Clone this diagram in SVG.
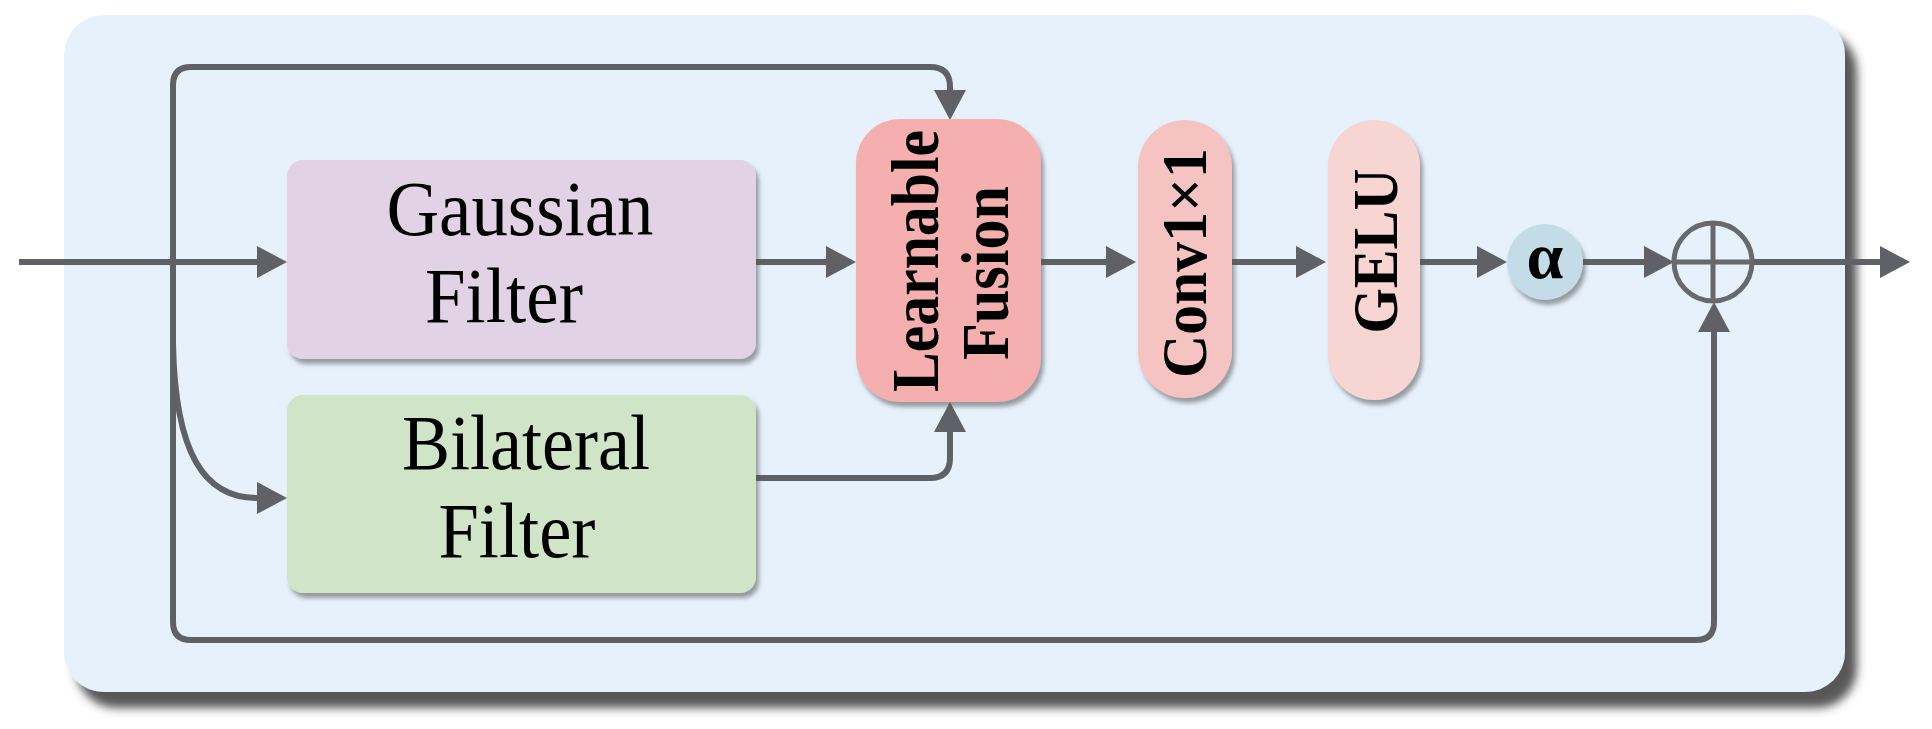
<svg xmlns="http://www.w3.org/2000/svg" width="1932" height="729" viewBox="0 0 1932 729">
<style>
.ln{fill:none;stroke:#5f6166;stroke-width:6;stroke-linecap:butt;stroke-linejoin:round}
.lbl{font-family:"Liberation Serif","Times New Roman",serif;font-size:78px;fill:#000;text-anchor:middle}
.vl{font-family:"Liberation Serif","Times New Roman",serif;font-weight:bold;fill:#000;text-anchor:middle}
</style>
<defs>
<marker id="ah" markerUnits="userSpaceOnUse" markerWidth="31" markerHeight="33" refX="0" refY="16" orient="auto">
<path d="M0,0 L30,16 L0,32 Z" fill="#5f6166"/>
</marker>
<filter id="ps" x="-5%" y="-5%" width="115%" height="120%">
<feDropShadow dx="12" dy="16" stdDeviation="5" flood-color="#3a3a3a" flood-opacity="0.85"/>
</filter>
<filter id="ns" x="-10%" y="-10%" width="130%" height="130%">
<feDropShadow dx="3" dy="5" stdDeviation="2" flood-color="#555" flood-opacity="0.55"/>
</filter>
</defs>
<rect id="panel" x="64" y="15" width="1781" height="677" rx="40" fill="#e6f1fc" filter="url(#ps)"/>
<g id="connectors">
<path class="ln" d="M19,262 H257" marker-end="url(#ah)"/>
<path class="ln" d="M756,262 H826" marker-end="url(#ah)"/>
<path class="ln" d="M1041,262 H1106" marker-end="url(#ah)"/>
<path class="ln" d="M1232,262 H1296" marker-end="url(#ah)"/>
<path class="ln" d="M1420,262 H1477" marker-end="url(#ah)"/>
<path class="ln" d="M1583,262 H1644" marker-end="url(#ah)"/>
<path class="ln" d="M1752,262 H1880" marker-end="url(#ah)"/>
<path class="ln" d="M173,300 V85 Q173,67 191,67 H930 Q950,67 950,87 V90" marker-end="url(#ah)"/>
<path class="ln" d="M173,280 V622 Q173,640 191,640 H1696 Q1714,640 1714,622 V332" marker-end="url(#ah)"/>
<path class="ln" d="M173,343 C175,455 205,498 257,498" marker-end="url(#ah)"/>
<path class="ln" d="M756,478 H930 Q950,478 950,458 V432" marker-end="url(#ah)"/>
</g>
<g id="gaussian">
<rect x="287" y="160" width="469" height="199" rx="16" fill="#e2d2e6" filter="url(#ns)"/>
<text class="lbl" x="520" y="235" textLength="267" lengthAdjust="spacingAndGlyphs">Gaussian</text>
<text class="lbl" x="504" y="322" textLength="158" lengthAdjust="spacingAndGlyphs">Filter</text>
</g>
<g id="bilateral">
<rect x="287" y="395" width="469" height="198" rx="16" fill="#d0e4c8" filter="url(#ns)"/>
<text class="lbl" x="526" y="469" textLength="248" lengthAdjust="spacingAndGlyphs">Bilateral</text>
<text class="lbl" x="517" y="557" textLength="157" lengthAdjust="spacingAndGlyphs">Filter</text>
</g>
<g id="fusion">
<rect x="856" y="119" width="185" height="283" rx="44" fill="#f4afae" filter="url(#ns)"/>
<text class="vl" font-size="68" textLength="262" lengthAdjust="spacingAndGlyphs" transform="translate(938,261) rotate(-90)">Learnable</text>
<text class="vl" font-size="68" textLength="174" lengthAdjust="spacingAndGlyphs" transform="translate(1008,273) rotate(-90)">Fusion</text>
</g>
<g id="conv">
<rect x="1138" y="120" width="94" height="278" rx="47" fill="#f5c4c2" filter="url(#ns)"/>
<text class="vl" font-size="63" textLength="230" lengthAdjust="spacingAndGlyphs" transform="translate(1206,263) rotate(-90)">Conv1×1</text>
</g>
<g id="gelu">
<rect x="1328" y="120" width="92" height="280" rx="46" fill="#f7d5d3" filter="url(#ns)"/>
<text class="vl" font-size="63" textLength="165" lengthAdjust="spacingAndGlyphs" transform="translate(1397,251) rotate(-90)">GELU</text>
</g>
<g id="alpha">
<circle cx="1545" cy="262" r="38" fill="#c4dce7" filter="url(#ns)"/>
<text class="vl" font-size="66" x="1545" y="278">α</text>
</g>
<g id="sum">
<circle cx="1713" cy="262" r="39" fill="none" stroke="#68696c" stroke-width="5"/>
<path d="M1674,262 H1752 M1713,223 V301" stroke="#68696c" stroke-width="5" fill="none"/>
</g>
</svg>
